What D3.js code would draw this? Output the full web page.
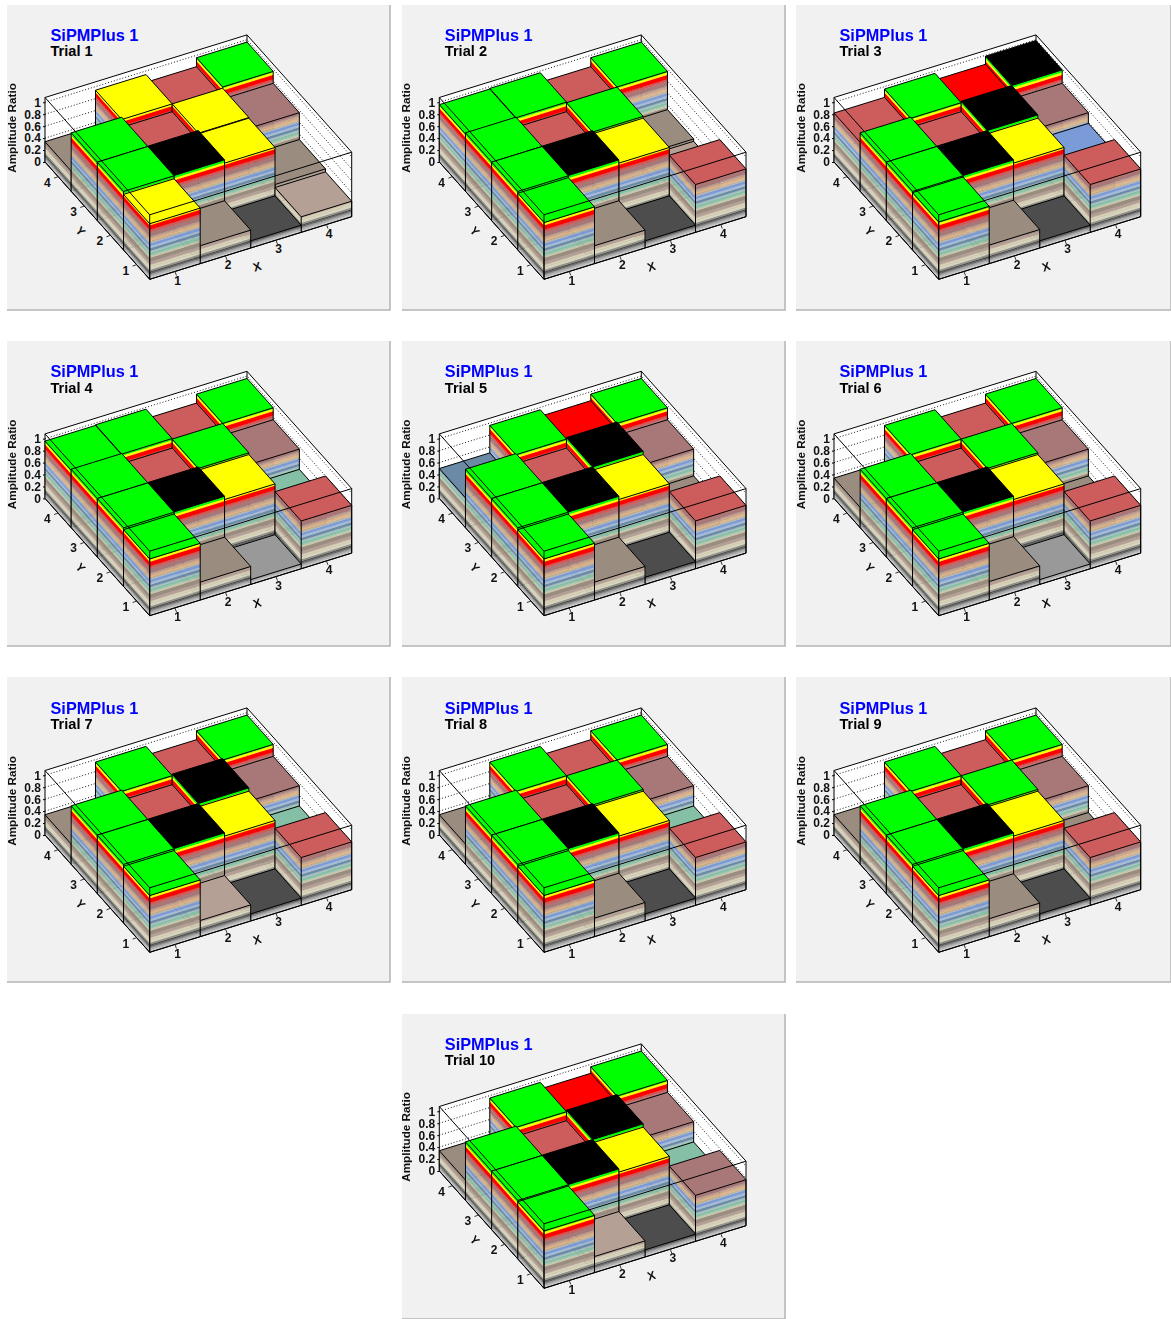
<!DOCTYPE html>
<html>
<head>
<meta charset="utf-8">
<script src="https://cdn.jsdelivr.net/npm/d3@7"></script>
<style>
	html, body { margin: 0; padding: 0; background: #fff; }
	svg { display: block; filter: blur(0.35px); }
	text { font-family: "Liberation Sans", Arial, sans-serif; font-weight: bold; }
</style>
</head>
<body>
<div id="chart"></div>
<script>
// amplitude ratio per cell, rows are Y = 1..4, columns are X = 1..4
const trial1 = [0.93, 0.30, 0.12, 0.26, 0.98, 0.985, 0.93, 0.31, 0.98, 0.81, 0.94, 0.76, 0.34, 0.94, 0.81, 0.96];
const trial2 = [0.95, 0.30, 0.12, 0.80, 0.98, 0.985, 0.93, 0.28, 0.98, 0.81, 0.96, 0.32, 0.96, 0.97, 0.81, 0.96];
const trial3 = [0.96, 0.31, 0.12, 0.80, 0.98, 0.985, 0.93, 0.58, 0.98, 0.81, 0.985, 0.76, 0.82, 0.96, 0.85, 0.985];
const trial4 = [0.95, 0.30, 0.08, 0.80, 0.98, 0.985, 0.93, 0.42, 0.98, 0.81, 0.96, 0.76, 0.96, 0.97, 0.81, 0.96];
const trial5 = [0.95, 0.30, 0.12, 0.80, 0.98, 0.985, 0.93, 0.31, 0.98, 0.81, 0.985, 0.76, 0.50, 0.96, 0.85, 0.96];
const trial6 = [0.95, 0.31, 0.08, 0.80, 0.98, 0.985, 0.93, 0.31, 0.98, 0.81, 0.96, 0.76, 0.34, 0.96, 0.81, 0.96];
const trial7 = [0.95, 0.27, 0.12, 0.80, 0.98, 0.985, 0.93, 0.42, 0.98, 0.81, 0.985, 0.76, 0.34, 0.96, 0.81, 0.96];
const trial8 = [0.95, 0.31, 0.12, 0.80, 0.98, 0.985, 0.93, 0.42, 0.98, 0.81, 0.96, 0.76, 0.34, 0.96, 0.81, 0.96];
const trial9 = [0.95, 0.30, 0.12, 0.80, 0.98, 0.985, 0.93, 0.31, 0.98, 0.81, 0.96, 0.76, 0.34, 0.96, 0.81, 0.96];
const trial10 = [0.96, 0.27, 0.12, 0.77, 0.98, 0.985, 0.93, 0.42, 0.98, 0.81, 0.985, 0.76, 0.34, 0.96, 0.85, 0.96];
const trials = [trial1, trial2, trial3, trial4, trial5, trial6, trial7, trial8, trial9, trial10];

// colour contours: upper bound of each band and its colour
const bandTops = [0.035, 0.06, 0.085, 0.105, 0.13, 0.16, 0.19, 0.22, 0.24, 0.29, 0.36, 0.385, 0.405, 0.445, 0.475, 0.52, 0.555, 0.6, 0.635, 0.665, 0.695, 0.72, 0.785, 0.83, 0.905, 0.945, 0.985, 1.08];
const bandColors = ["#cbcbcb", "#b2b2b2", "#999999", "#666666", "#4d4d4d", "#8f8f84", "#d8d4c0", "#cfcbb0", "#d9d0b5", "#b5a096", "#9a8d80", "#c9c6a8", "#a8c4ac", "#85bfa5", "#a5bfc0", "#6a8aa5", "#a6bcd4", "#7a9ad8", "#b8b4a8", "#e0b585", "#d0a888", "#b89a90", "#a87878", "#cd5c5c", "#ff0000", "#ffff00", "#00ff00", "#000000"];

const zTicks = [0, 0.2, 0.4, 0.6, 0.8, 1];
const binLabels = [1, 2, 3, 4];

const width = 1171
, height = 1319
, panelW = [383, 383, 375]
, panelH = 305
, panelX = [7, 402, 796]
, panelY = [5, 341, 677, 1014]
, originX = [149.7, 544, 938.7]
, originY = [279.3, 615.7, 952.3, 1288.3];

// the lego box is an oblique projection, so each axis just shifts the screen point
const xToSx = d3.scaleLinear().domain([0, 4]).range([0, 202])
, xToSy = d3.scaleLinear().domain([0, 4]).range([0, -62.6])
, yToSx = d3.scaleLinear().domain([0, 4]).range([0, -104.7])
, yToSy = d3.scaleLinear().domain([0, 4]).range([0, -117.3])
, zToSy = d3.scaleLinear().domain([0, 1.08]).range([0, -64.5]);

const project = (x, y, z) => [xToSx(x) + yToSx(y), xToSy(x) + yToSy(y) + zToSy(z)];
const lineGen = d3.line();

const svg = d3.select("#chart").append("svg")
	.attr("width", width)
	.attr("height", height);

function drawColumn(g, i, j, value) {
	const x0 = i, x1 = i + 1, y0 = j, y1 = j + 1;

	// stacked contour bands on the two visible sides
	bandTops.forEach((top, b) => {
		const low = b === 0 ? 0 : bandTops[b - 1];
		if (low >= value) return;
		const up = Math.min(top, value);
		[[[x0, y0], [x1, y0]], [[x0, y1], [x0, y0]]].forEach(side => {
			const a = side[0], c = side[1];
			g.append("path")
				.attr("d", lineGen([project(a[0], a[1], low), project(c[0], c[1], low), project(c[0], c[1], up), project(a[0], a[1], up)]) + "Z")
				.attr("fill", bandColors[b])
				.attr("stroke", bandColors[b])
				.attr("stroke-width", 0.3);
		});
	});

	const topIndex = bandTops.findIndex(t => value < t);

	g.append("path")
		.attr("d", lineGen([project(x0, y0, value), project(x1, y0, value), project(x1, y1, value), project(x0, y1, value)]) + "Z")
		.attr("fill", bandColors[topIndex])
		.attr("stroke", "#000")
		.attr("stroke-width", 1);

	// edges of the sides
	g.append("path")
		.attr("d", lineGen([project(x0, y1, value), project(x0, y1, 0), project(x0, y0, 0), project(x1, y0, 0), project(x1, y0, value)]))
		.attr("fill", "none")
		.attr("stroke", "#000")
		.attr("stroke-width", 1);
	g.append("path")
		.attr("d", lineGen([project(x0, y0, 0), project(x0, y0, value)]))
		.attr("stroke", "#000")
		.attr("stroke-width", 1);
}

function drawPanel(values, index) {
	const col = index === 9 ? 1 : index % 3
	, row = Math.floor(index / 3)
	, px = panelX[col]
	, py = panelY[row]
	, pw = panelW[col];

	svg.append("rect")
		.attr("x", px).attr("y", py)
		.attr("width", pw).attr("height", panelH)
		.attr("fill", "#f1f1f1");
	svg.append("path")
		.attr("d", `M${px},${py + panelH}H${px + pw}V${py}`)
		.attr("fill", "none")
		.attr("stroke", "#b4b4b4")
		.attr("stroke-width", 1.5);

	const g = svg.append("g")
		.attr("transform", `translate(${originX[col]},${originY[row]})`);
	const zMax = zToSy.domain()[1];

	// back walls with dotted grid lines
	g.append("path")
		.attr("d", lineGen([project(0, 4, 0), project(0, 4, zMax), project(4, 4, zMax), project(4, 0, zMax), project(4, 0, 0), project(4, 4, 0)]) + "Z")
		.attr("fill", "#fff");

	zTicks.filter(z => z > 0).forEach(z => {
		g.append("path")
			.attr("d", lineGen([project(0, 4, z), project(4, 4, z), project(4, 0, z)]))
			.attr("fill", "none")
			.attr("stroke", "#000")
			.attr("stroke-width", 0.9)
			.attr("stroke-dasharray", "1,2");
	});

	g.append("path")
		.attr("d", lineGen([project(0, 4, 0), project(0, 4, zMax), project(4, 4, zMax), project(4, 0, zMax)]))
		.attr("fill", "none")
		.attr("stroke", "#000");
	g.append("path")
		.attr("d", lineGen([project(4, 4, 0), project(4, 4, zMax)]))
		.attr("stroke", "#000");

	// columns, back to front
	d3.range(3, -1, -1).forEach(j => {
		d3.range(3, -1, -1).forEach(i => {
			drawColumn(g, i, j, values[j * 4 + i]);
		});
	});

	// front edges of the box go over the columns
	g.append("path")
		.attr("d", lineGen([project(0, 4, zMax), project(0, 0, zMax), project(4, 0, zMax), project(4, 0, 0), project(0, 0, 0), project(0, 4, 0)]))
		.attr("fill", "none")
		.attr("stroke", "#000");
	g.append("path")
		.attr("d", lineGen([project(0, 0, 0), project(0, 0, zMax)]))
		.attr("stroke", "#000");

	// Z axis
	const zAxis = d3.axisLeft(d3.scaleLinear().domain([0, 1.08]).range([0, -64.5]))
		.tickValues(zTicks)
		.tickSize(2)
		.tickPadding(2)
		.tickFormat(d => d);

	const corner = project(0, 4, 0);
	const zAxisG = g.append("g")
		.attr("transform", `translate(${corner[0]},${corner[1]})`)
		.call(zAxis);
	zAxisG.select(".domain").remove();
	zAxisG.selectAll("text")
		.style("font-size", "12px")
		.style("font-family", '"Liberation Sans", Arial, sans-serif')
		.attr("fill", "#111");

	g.append("text")
		.attr("transform", `translate(${corner[0] - 29},${corner[1] - 34}) rotate(-90)`)
		.attr("text-anchor", "middle")
		.style("font-size", "11.7px")
		.attr("fill", "#111")
		.text("Amplitude Ratio");

	// X and Y bin labels with their ticks
	binLabels.forEach(d => {
		const onX = project(d - 0.5, 0, 0), onY = project(0, d - 0.5, 0);
		g.append("path")
			.attr("d", lineGen([onX, [onX[0] + 1.5, onX[1] + 4]]))
			.attr("stroke", "#333");
		g.append("path")
			.attr("d", lineGen([onY, [onY[0] - 4, onY[1] + 1.5]]))
			.attr("stroke", "#333");
		g.append("text")
			.attr("x", onX[0] + 2.7).attr("y", onX[1] + 9.3 + 4)
			.attr("text-anchor", "middle")
			.style("font-size", "12px")
			.attr("fill", "#111")
			.text(d);
		g.append("text")
			.attr("x", onY[0] - 10.7).attr("y", onY[1] + 6 + 4)
			.attr("text-anchor", "middle")
			.style("font-size", "12px")
			.attr("fill", "#111")
			.text(d);
	});

	const xMid = project(2, 0, 0), yMid = project(0, 2, 0);
	g.append("text")
		.attr("transform", `translate(${xMid[0] + 7.7},${xMid[1] + 18.7 + 4}) rotate(-17)`)
		.attr("text-anchor", "middle")
		.style("font-size", "12px")
		.attr("fill", "#111")
		.text("X");
	g.append("text")
		.attr("transform", `translate(${yMid[0] - 20},${yMid[1] + 9.3 + 4}) rotate(48)`)
		.attr("text-anchor", "middle")
		.style("font-size", "12px")
		.attr("fill", "#111")
		.text("Y");

	// titles
	g.append("text")
		.attr("x", -99.2).attr("y", -238.6)
		.style("font-size", "16.3px")
		.attr("fill", "#0000ff")
		.text("SiPMPlus 1");
	g.append("text")
		.attr("x", -99.2).attr("y", -223)
		.style("font-size", "14.6px")
		.attr("fill", "#000")
		.text("Trial " + (index + 1));
}

trials.forEach(drawPanel);
</script>
</body>
</html>
